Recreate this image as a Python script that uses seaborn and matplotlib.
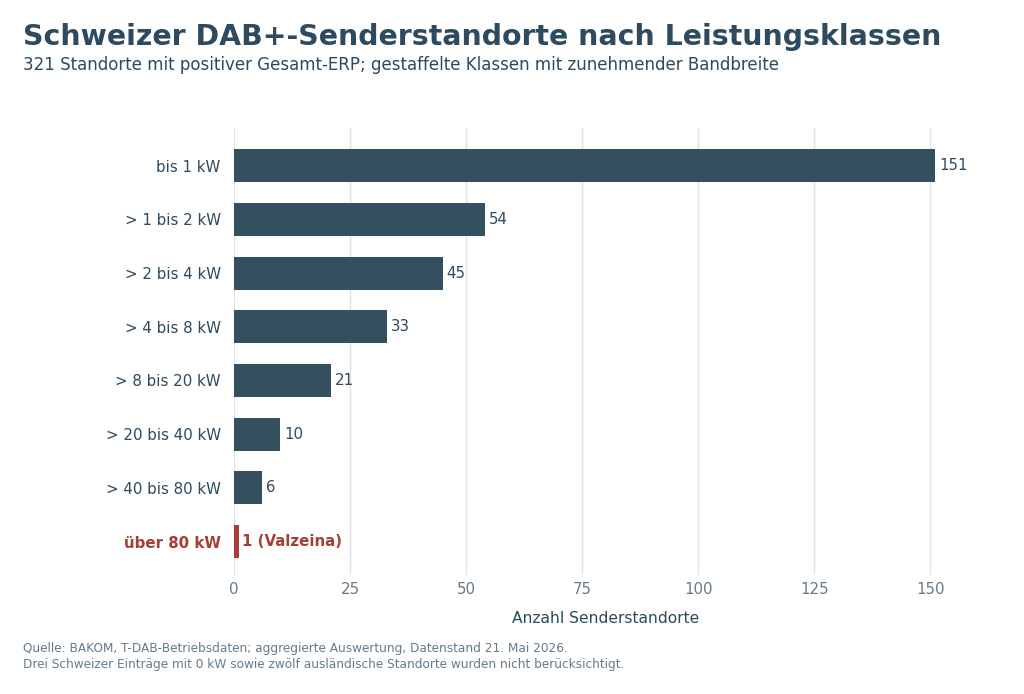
import matplotlib
matplotlib.use("Agg")
import matplotlib.pyplot as plt
import seaborn as sns
import pandas as pd

categories = ["bis 1 kW", "> 1 bis 2 kW", "> 2 bis 4 kW", "> 4 bis 8 kW",
              "> 8 bis 20 kW", "> 20 bis 40 kW", "> 40 bis 80 kW", "über 80 kW"]
counts = [151, 54, 45, 33, 21, 10, 6, 1]
value_labels = ["151", "54", "45", "33", "21", "10", "6", "1 (Valzeina)"]
xticks = [0, 25, 50, 75, 100, 125, 150]

DARK = "#34505f"
TEXT = "#2c4a5e"
RED = "#a63f37"
GREY = "#667b8a"

sns.set_theme(style="whitegrid")
plt.rcParams['font.family'] = ['DejaVu Sans']

df = pd.DataFrame({"cat": categories, "n": counts})
colors = [DARK] * (len(categories) - 1) + [RED]

fig = plt.figure(figsize=(10.24, 6.94), dpi=100)
ax = fig.add_axes([0.2285, 0.171, 0.7255, 0.645])
sns.barplot(data=df, x="n", y="cat", hue="cat", palette=colors, legend=False,
            width=0.62, ax=ax, saturation=1, linewidth=0)

ax.set_xlim(0, 160)
ax.set_ylim(7.63, -0.71)
ax.set_xticks(xticks)
ax.grid(axis="x", color="#dde3e8", linewidth=1)
ax.grid(axis="y", visible=False)
for s in ax.spines.values():
    s.set_visible(False)
ax.tick_params(axis="x", colors=GREY, labelsize=10.8, length=0, pad=5)
ax.tick_params(axis="y", colors=TEXT, labelsize=10.8, length=0, pad=9.5)
ax.set_ylabel("")
ax.set_xlabel("Anzahl Senderstandorte", color=TEXT, fontsize=11.2, labelpad=10)

for lbl in ax.get_yticklabels():
    if lbl.get_text() == "über 80 kW":
        lbl.set_color(RED)
        lbl.set_fontweight("bold")

for i, (v, t) in enumerate(zip(counts, value_labels)):
    last = i == len(counts) - 1
    ax.text(v + 0.8, i, t, va="center", ha="left", fontsize=10.8,
            color=RED if last else TEXT, fontweight="bold" if last else "normal")

fig.text(0.0225, 0.9355, "Schweizer DAB+-Senderstandorte nach Leistungsklassen",
         fontsize=20.4, fontweight="bold", color="#2e4a5e", va="baseline")
fig.text(0.0225, 0.8998, "321 Standorte mit positiver Gesamt-ERP; gestaffelte Klassen mit zunehmender Bandbreite",
         fontsize=12.0, color=TEXT, va="baseline")
fig.text(0.0225, 0.060, "Quelle: BAKOM, T-DAB-Betriebsdaten; aggregierte Auswertung, Datenstand 21. Mai 2026.",
         fontsize=8.7, color=GREY, va="baseline")
fig.text(0.0225, 0.037, "Drei Schweizer Einträge mit 0 kW sowie zwölf ausländische Standorte wurden nicht berücksichtigt.",
         fontsize=8.7, color=GREY, va="baseline")

fig.savefig("out.png", dpi=100)
